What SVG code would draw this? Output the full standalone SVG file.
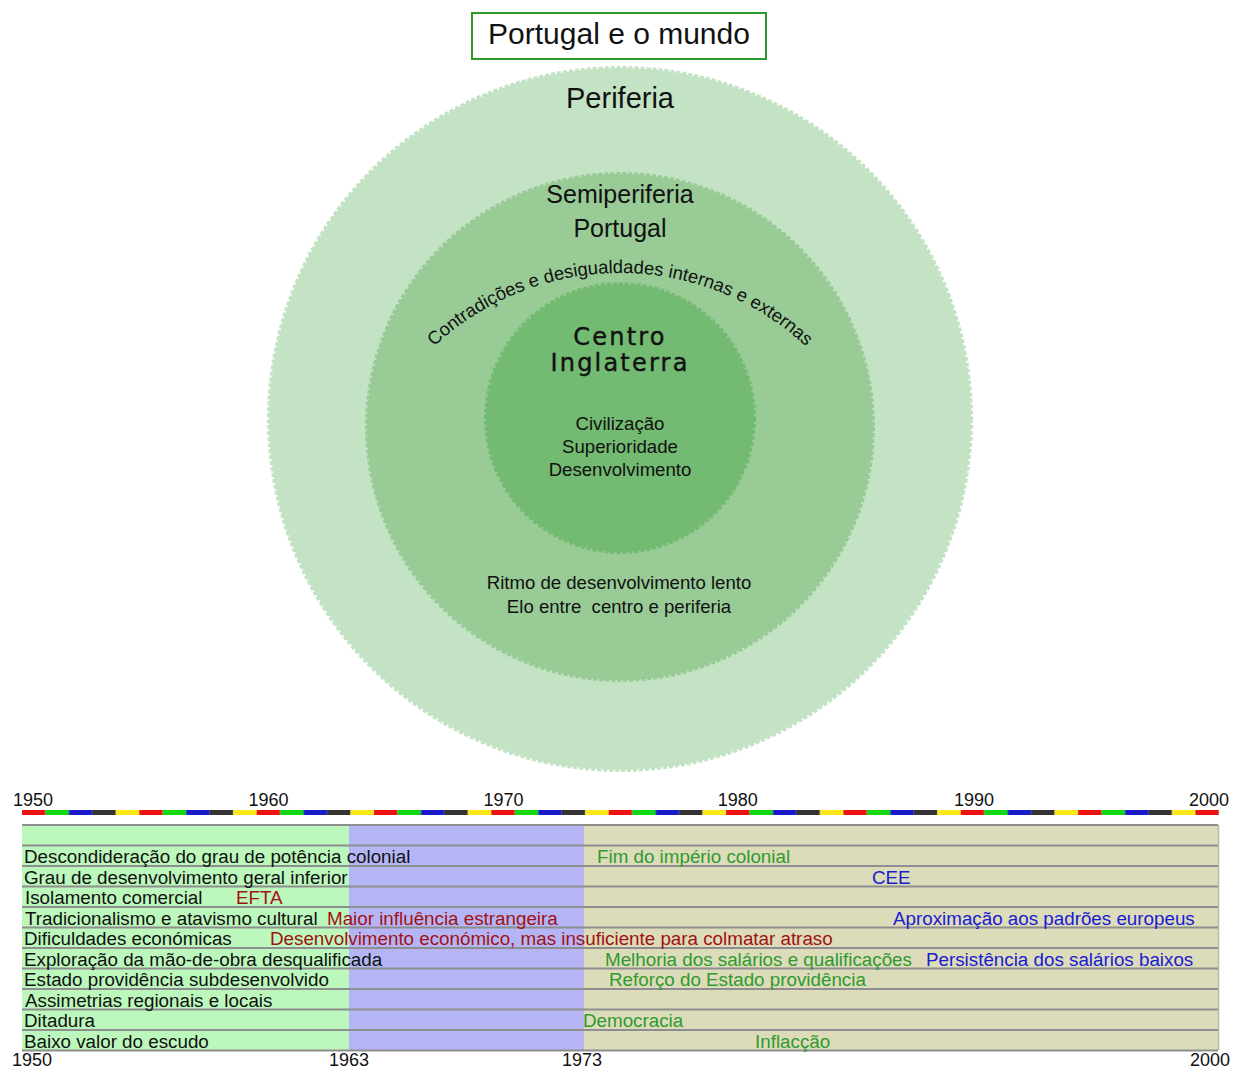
<svg xmlns="http://www.w3.org/2000/svg" width="1233" height="1068" viewBox="0 0 1233 1068">
  <style>
    text { font-family: "Liberation Sans", Arial, sans-serif; fill: #111; }
    .ring { stroke-width: 4; stroke-dasharray: 4 2; }
    .outer { fill: #c3e3c4; stroke: #c3e3c4; }
    .middle { fill: #98cb96; stroke: #98cb96; }
    .inner { fill: #73ba72; stroke: #73ba72; }
    .lbl { font-size: 18.6px; }
    .geo { font-family: "DejaVu Sans", Verdana, sans-serif; font-size: 24px; letter-spacing: 2.2px; stroke: #111; stroke-width: 0.4px; }
    .year { font-size: 18px; text-anchor: middle; }
    .row { font-size: 18.8px; }
    .red { fill: #a01212; }
    .grn { fill: #2f9a2f; }
    .blu { fill: #1a1ad2; }
    .sep { stroke: #8e8e8e; stroke-width: 2; }
  </style>
  <defs>
    <!-- five-colour repeating scale, one colour per year -->
    <pattern id="yearScale" patternUnits="userSpaceOnUse" x="22" y="810" width="117.35" height="5">
      <rect x="0" y="0" width="23.47" height="5" fill="#ee1111"/>
      <rect x="23.47" y="0" width="23.47" height="5" fill="#11d911"/>
      <rect x="46.94" y="0" width="23.47" height="5" fill="#1a1acc"/>
      <rect x="70.41" y="0" width="23.47" height="5" fill="#333333"/>
      <rect x="93.88" y="0" width="23.47" height="5" fill="#ffe817"/>
    </pattern>
    <path id="arcText" d="M 348 545 A 272 272 0 0 1 892 545"/>
  </defs>

  <!-- title -->
  <g id="title">
    <rect x="472" y="13" width="294" height="46" fill="#ffffff" stroke="#2e9a2e" stroke-width="2"/>
    <text x="619" y="44" font-size="30" text-anchor="middle">Portugal e o mundo</text>
  </g>

  <!-- concentric world-system rings -->
  <g id="periferia">
    <circle class="ring outer" cx="620" cy="419" r="351"/>
    <text x="620" y="108" font-size="29" text-anchor="middle">Periferia</text>
  </g>

  <g id="semiperiferia">
    <circle class="ring middle" cx="620" cy="427" r="253"/>
    <text x="620" y="203" font-size="25" text-anchor="middle">Semiperiferia</text>
    <text x="620" y="237" font-size="25" text-anchor="middle">Portugal</text>
    <text font-size="18.4"><textPath href="#arcText" startOffset="50%" text-anchor="middle">Contradições e desigualdades internas e externas</textPath></text>
    <text class="lbl" x="619" y="589" text-anchor="middle">Ritmo de desenvolvimento lento</text>
    <text class="lbl" x="619" y="613" text-anchor="middle" xml:space="preserve">Elo entre  centro e periferia</text>
  </g>

  <g id="centro">
    <circle class="ring inner" cx="620" cy="418" r="134"/>
    <text class="geo" x="620" y="345" text-anchor="middle">Centro</text>
    <text class="geo" x="620" y="371" text-anchor="middle">Inglaterra</text>
    <text class="lbl" x="620" y="430" text-anchor="middle">Civilização</text>
    <text class="lbl" x="620" y="453" text-anchor="middle">Superioridade</text>
    <text class="lbl" x="620" y="476" text-anchor="middle">Desenvolvimento</text>
  </g>

  <!-- year scale -->
  <g id="scale">
    <rect x="22" y="810" width="1197" height="5" fill="url(#yearScale)"/>
    <text class="year" x="33" y="806">1950</text>
    <text class="year" x="268.4" y="806">1960</text>
    <text class="year" x="503.6" y="806">1970</text>
    <text class="year" x="737.8" y="806">1980</text>
    <text class="year" x="974" y="806">1990</text>
    <text class="year" x="1209" y="806">2000</text>
  </g>

  <!-- period bands -->
  <g id="periods">
    <rect x="22" y="825" width="327" height="225" fill="#bcf7bc"/>
    <rect x="349" y="825" width="235" height="225" fill="#b5b5f6"/>
    <rect x="584" y="825" width="634" height="225" fill="#dcdcba"/>
    <line x1="1218.5" y1="825" x2="1218.5" y2="1050" stroke="#b9b9a0" stroke-width="1.5"/>
  </g>

  <!-- row separators -->
  <g id="rows">
    <line class="sep" x1="22" y1="825" x2="1218" y2="825"/>
    <line class="sep" x1="22" y1="845.5" x2="1218" y2="845.5"/>
    <line class="sep" x1="22" y1="866" x2="1218" y2="866"/>
    <line class="sep" x1="22" y1="886.5" x2="1218" y2="886.5"/>
    <line class="sep" x1="22" y1="907" x2="1218" y2="907"/>
    <line class="sep" x1="22" y1="927.5" x2="1218" y2="927.5"/>
    <line class="sep" x1="22" y1="948" x2="1218" y2="948"/>
    <line class="sep" x1="22" y1="968.5" x2="1218" y2="968.5"/>
    <line class="sep" x1="22" y1="989" x2="1218" y2="989"/>
    <line class="sep" x1="22" y1="1009.5" x2="1218" y2="1009.5"/>
    <line class="sep" x1="22" y1="1030" x2="1218" y2="1030"/>
    <line class="sep" x1="22" y1="1050.5" x2="1218" y2="1050.5"/>
  </g>

  <!-- row texts -->
  <g id="row-texts">
    <text class="row" x="24" y="863">Descondideração do grau de potência colonial</text>
    <text class="row grn" x="597" y="863">Fim do império colonial</text>

    <text class="row" x="24" y="883.5">Grau de desenvolvimento geral inferior</text>
    <text class="row blu" x="872" y="883.5">CEE</text>

    <text class="row" x="25" y="904">Isolamento comercial</text>
    <text class="row red" x="236" y="904">EFTA</text>

    <text class="row" x="25" y="924.5">Tradicionalismo e atavismo cultural</text>
    <text class="row red" x="327" y="924.5">Maior influência estrangeira</text>
    <text class="row blu" x="893" y="924.5">Aproximação aos padrões europeus</text>

    <text class="row" x="24" y="945">Dificuldades económicas</text>
    <text class="row red" x="270" y="945">Desenvolvimento económico, mas insuficiente para colmatar atraso</text>

    <text class="row" x="24" y="965.5">Exploração da mão-de-obra desqualificada</text>
    <text class="row grn" x="605" y="965.5">Melhoria dos salários e qualificações</text>
    <text class="row blu" x="926" y="965.5">Persistência dos salários baixos</text>

    <text class="row" x="24" y="986">Estado providência subdesenvolvido</text>
    <text class="row grn" x="609" y="986">Reforço do Estado providência</text>

    <text class="row" x="25" y="1006.5">Assimetrias regionais e locais</text>

    <text class="row" x="24" y="1027">Ditadura</text>
    <text class="row grn" x="583" y="1027">Democracia</text>

    <text class="row" x="24" y="1047.5">Baixo valor do escudo</text>
    <text class="row grn" x="755" y="1047.5">Inflacção</text>
  </g>

  <!-- period boundary years -->
  <g id="bounds">
    <text class="year" x="32" y="1066">1950</text>
    <text class="year" x="349" y="1066">1963</text>
    <text class="year" x="582" y="1066">1973</text>
    <text class="year" x="1210" y="1066">2000</text>
  </g>
</svg>
